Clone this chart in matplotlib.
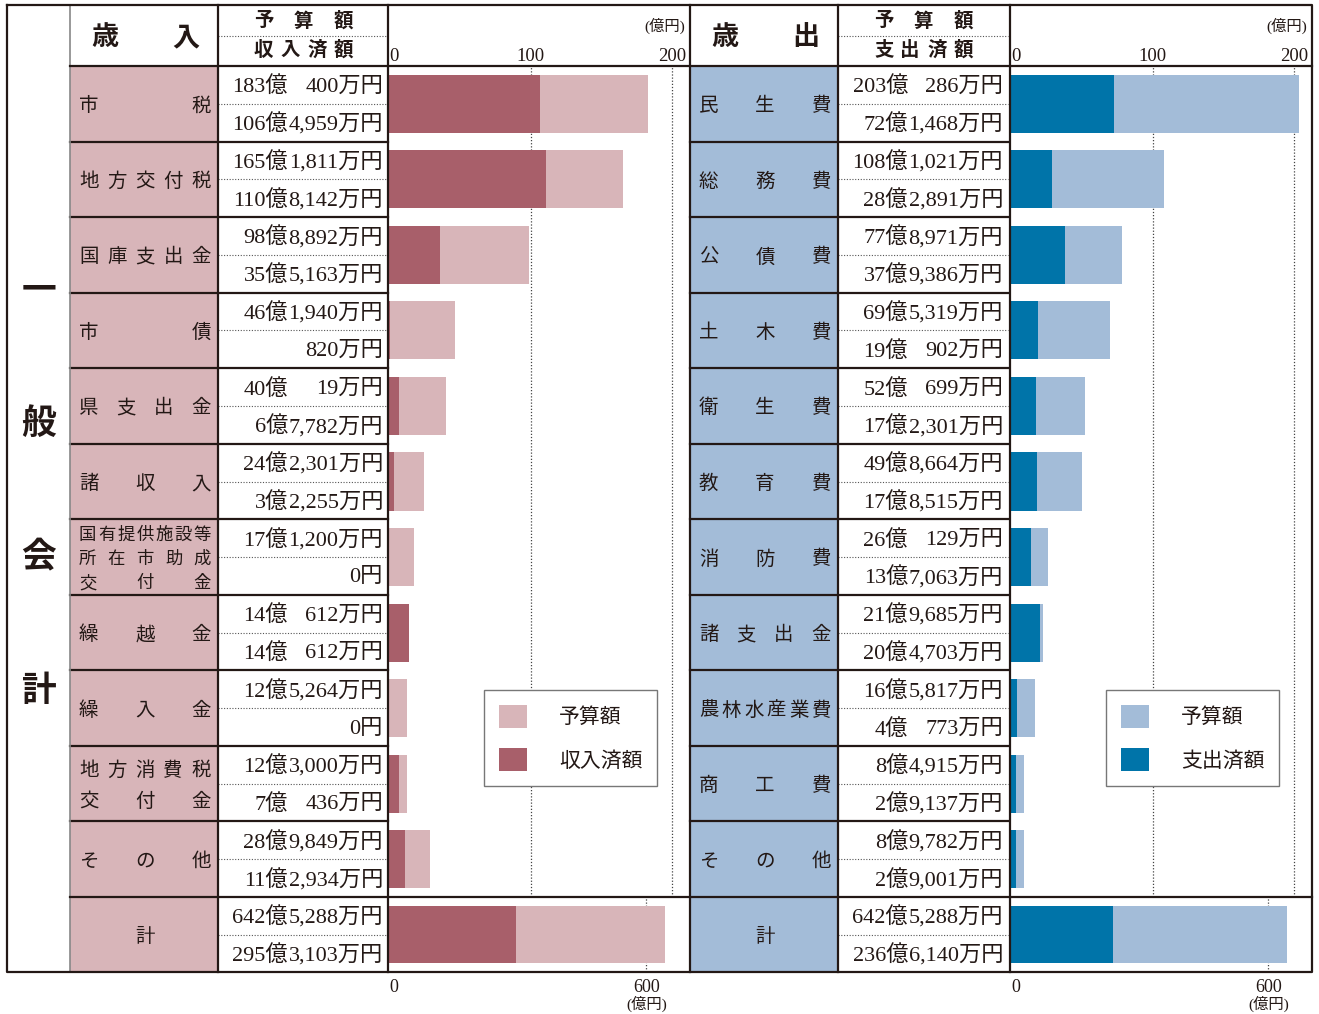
import matplotlib.pyplot as plt
from matplotlib.patches import Rectangle

plt.rcParams['font.family'] = ['Liberation Serif', 'Noto Sans CJK JP']

# values in 万円
rev_names = ['市税', '地方交付税', '国庫支出金', '市債', '県支出金', '諸収入',
             '国有提供施設等\n所在市助成\n交付金', '繰越金', '繰入金',
             '地方消費税\n交付金', 'その他']
rev_budget = [1830400, 1651811, 988892, 461940, 400019, 242301, 171200,
              140612, 125264, 123000, 289849]
rev_actual = [1064959, 1108142, 355163, 820, 67782, 32255, 0,
              140612, 0, 70436, 112934]
rev_total = [6425288, 2953103]

exp_names = ['民生費', '総務費', '公債費', '土木費', '衛生費', '教育費',
             '消防費', '諸支出金', '農林水産業費', '商工費', 'その他']
exp_budget = [2030286, 1081021, 778971, 695319, 520699, 498664, 260129,
              219685, 165817, 84915, 89782]
exp_actual = [721468, 282891, 379386, 190902, 172301, 178515, 137063,
              204703, 40773, 29137, 29001]
exp_total = [6425288, 2366140]

ticks_top = [0, 100, 200]
ticks_total = [0, 600]

ink = '#231815'
pink_light, pink_dark = '#d8b5b9', '#a85f6a'
blue_light, blue_dark = '#a3bcd8', '#0074a9'
SANS = 'Noto Sans CJK JP'

W, H = 1319, 1014
fig = plt.figure(figsize=(W / 100, H / 100), dpi=100)
fig.patch.set_facecolor('white')

TOP, HEAD, BODY, BOT = 5, 66, 897, 972
ROW = (BODY - HEAD) / 11


def fig_axes(x0, y0, x1, y1):
    return fig.add_axes([x0 / W, 1 - y1 / H, (x1 - x0) / W, (y1 - y0) / H])


# ---- bar panels ----
def bar_panel(x0, names, budget, actual, total, light, dark, legend_labels):
    ax = fig_axes(x0, HEAD, x0 + 302, BODY)
    ax.patch.set_visible(False)
    y = [i + 0.5 for i in range(len(names))]
    ax.barh(y, [v / 10000 for v in budget], height=0.77, color=light,
            label=legend_labels[0])
    ax.barh(y, [v / 10000 for v in actual], height=0.77, color=dark,
            label=legend_labels[1])
    ax.set_ylim(11, 0)
    ax.set_xlim(-1.06, 212.5)
    for t in ticks_top[1:]:
        ax.axvline(t, color='#444', lw=0.9, ls=(0, (1, 1.5)), zorder=0)
    ax.set_yticks([])
    ax.xaxis.set_ticks_position('top')
    ax.set_xticks(ticks_top)
    ax.tick_params(axis='x', length=0, pad=1, labelsize=13.5, colors=ink)
    ax.get_xticklabels()[0].set_horizontalalignment('left')
    for s in ax.spines.values():
        s.set_visible(False)
    ax.text(0.985, 1.0 + 32 / (BODY - HEAD), '(億円)', transform=ax.transAxes,
            ha='right', va='bottom', fontsize=11, color=ink)
    leg = ax.legend(loc='upper left', bbox_to_anchor=((x0 + 96) / W, 1 - 690 / H),
                    bbox_transform=fig.transFigure, borderaxespad=0,
                    prop={'family': SANS, 'size': 15}, handlelength=1.35,
                    handleheight=1.35, handletextpad=1.55, labelspacing=0.95,
                    borderpad=0.7, fancybox=False, edgecolor='#777777',
                    framealpha=1)
    leg.get_frame().set_linewidth(1.0)
    for t in leg.get_texts():
        t.set_color(ink)

    axt = fig_axes(x0, BODY, x0 + 302, BOT)
    axt.patch.set_visible(False)
    axt.barh([0.5], [total[0] / 10000], height=0.77, color=light)
    axt.barh([0.5], [total[1] / 10000], height=0.77, color=dark)
    axt.set_ylim(1, 0)
    axt.set_xlim(-3.5, 702)
    axt.axvline(600, color='#444', lw=0.9, ls=(0, (1, 1.5)), zorder=0)
    axt.set_yticks([])
    axt.set_xticks(ticks_total)
    axt.tick_params(axis='x', length=0, pad=5, labelsize=13, colors=ink)
    axt.get_xticklabels()[0].set_horizontalalignment('left')
    for s in axt.spines.values():
        s.set_visible(False)
    axt.text(600, -0.42, '(億円)', transform=axt.get_xaxis_transform(),
             ha='center', va='center', fontsize=11, color=ink)


bar_panel(388, rev_names, rev_budget, rev_actual, rev_total,
          pink_light, pink_dark, ['予算額', '収入済額'])
bar_panel(1010, exp_names, exp_budget, exp_actual, exp_total,
          blue_light, blue_dark, ['予算額', '支出済額'])

# ---- table layer on top ----
bg = fig.add_axes([0, 0, 1, 1])
bg.set_zorder(5)
bg.patch.set_visible(False)
bg.set_xlim(0, W)
bg.set_ylim(H, 0)
bg.axis('off')


def spread(s, x0, x1, y, size, weight='normal'):
    w = size * 100 / 72
    y = y + 2
    if len(s) == 1:
        bg.text((x0 + x1) / 2, y, s, ha='center', va='center', fontsize=size,
                family=SANS, color=ink, fontweight=weight)
        return
    step = (x1 - x0 - w) / (len(s) - 1)
    for i, c in enumerate(s):
        bg.text(x0 + w / 2 + i * step, y, c, ha='center', va='center',
                fontsize=size, family=SANS, color=ink, fontweight=weight)


def amount(v, xr, y):
    oku, man = divmod(v, 10000)
    y = y + 2
    kw = dict(ha='right', va='center', fontsize=16, color=ink)
    if oku:
        bg.text(xr - 95, y, f'{oku}億', **kw)
    if man:
        bg.text(xr, y, f'{man:,}万円', **kw)
    elif not oku:
        bg.text(xr, y, '0円', **kw)


dot = dict(color='#555', lw=0.8, ls=(0, (1, 1.5)))
line = dict(color=ink, lw=1.6, solid_capstyle='projecting')

for (lx, ax_, names, budget, actual, total, fill, head) in [
        (70, 218, rev_names, rev_budget, rev_actual, rev_total, pink_light,
         ('歳入', '収入済額')),
        (690, 838, exp_names, exp_budget, exp_actual, exp_total, blue_light,
         ('歳出', '支出済額'))]:
    bg.add_patch(Rectangle((lx, HEAD), 148, BOT - HEAD, color=fill, lw=0,
                           zorder=0))
    spread(head[0], lx + 21, lx + 129, 35, 19.5, 'bold')
    spread('予算額', ax_ + 36, ax_ + 135, 19, 14, 'bold')
    spread(head[1], ax_ + 36, ax_ + 135, 48, 14, 'bold')
    bg.plot([ax_, ax_ + 170], [36, 36], **dot)
    for i, name in enumerate(names + ['計']):
        top = HEAD + i * ROW if i < 11 else BODY
        h = ROW if i < 11 else BOT - BODY
        cy = top + h / 2
        lines = name.split('\n')
        if name == '計':
            spread(name, lx + 10, lx + 140, cy, 14)
        elif len(lines) == 3:
            for k, s in enumerate(lines):
                spread(s, lx + 9, lx + 141, cy + (k - 1) * 24, 12.5)
        elif len(lines) == 2:
            for k, s in enumerate(lines):
                spread(s, lx + 9, lx + 141, cy + (k - 0.5) * 31, 14)
        else:
            spread(name, lx + 9, lx + 141, cy, 14)
        b, a = (budget[i], actual[i]) if i < 11 else total
        amount(b, ax_ + 165, top + h * 0.25)
        amount(a, ax_ + 165, top + h * 0.75)
        bg.plot([ax_, ax_ + 170], [cy, cy], **dot)
        if 0 < i < 11:
            bg.plot([lx, ax_ + 170], [top, top], **line)

# big vertical title
for c, y in zip('一般会計', [290, 423, 557, 690]):
    bg.text(39, y, c, ha='center', va='center', fontsize=25, family=SANS,
            fontweight='bold', color=ink)

# frame lines
bg.plot([70, 70], [TOP, BOT], color='#888', lw=1.2)
for x in [218, 388, 690, 838, 1010]:
    bg.plot([x, x], [TOP, BOT], **line)
bg.plot([7, 1312, 1312, 7, 7], [TOP, TOP, BOT, BOT, TOP], **line)
for y in [HEAD, BODY]:
    bg.plot([70, 1312], [y, y], **line)

fig.savefig('out.png', dpi=100)
